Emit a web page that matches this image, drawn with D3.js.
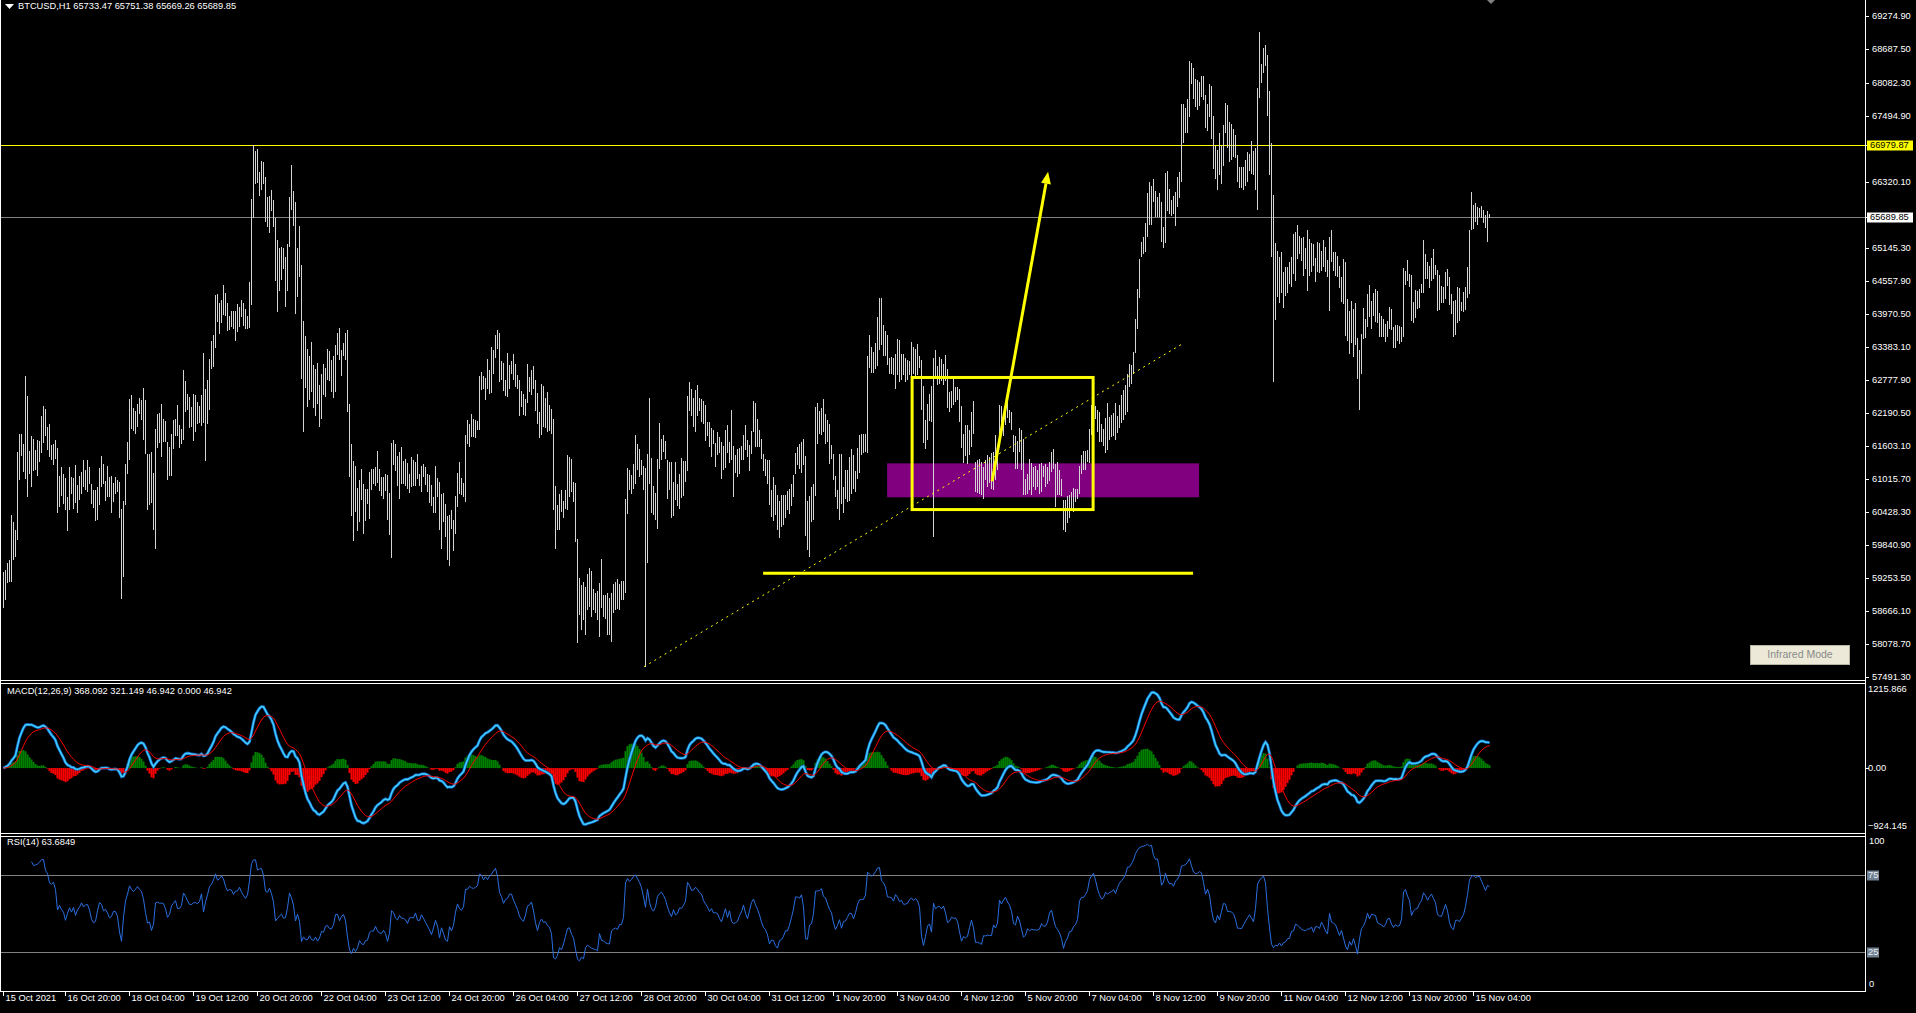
<!DOCTYPE html>
<html><head><meta charset="utf-8">
<script src="https://cdn.jsdelivr.net/npm/d3@7"></script>
<style>html,body{margin:0;padding:0;background:#000;overflow:hidden}svg{display:block}</style>
</head><body>
<svg id="chart" width="1916" height="1013"></svg>
<script>
// ---------------- DATA ----------------
const symbol = "BTCUSD,H1";
const lastBar = {open:65733.47, high:65751.38, low:65669.26, close:65689.85};
const firstBarTime = "2021-10-15 13:00";
const highs = [
59366,59396,59515,59574,60375,60256,60108,61502,61829,61817,61639,62849,62493,61520,61781,61734,61532,61710,61692,62137,
62315,62262,61947,62007,61621,61651,61722,61568,61069,61235,61105,61034,60701,61229,61057,61034,61265,60909,61069,61146,
61366,61176,61354,61235,60939,60820,60820,60879,61217,61425,61283,60986,61247,61057,61069,60950,61057,61010,60968,60494,
60630,61295,61674,62440,62511,62291,62226,62363,62469,62422,62647,62422,61473,61461,61502,61128,61918,62185,62196,62351,
62096,62054,61680,61591,61817,62066,62096,62333,61989,61906,62956,62766,62529,62481,
62303,62541,62511,62386,62315,62511,63264,62630,62778,63164,63490,63597,64309,64321,64166,64220,64481,64344,64166,63935,
64024,64024,64024,64143,64083,64214,64154,64054,63935,64540,66012,66980,66860,66902,66486,66694,66664,66409,66041,66071,
66172,66000,65667,65282,65139,65163,65139,64985,65211,66041,66623,66160,65952,65139,65537,64843,63846,63579,63336,63205,
63472,63045,62986,63086,62689,62897,63075,63003,63330,63300,63134,63205,63413,63632,63715,63312,63454,63632,63680,62351,
61651,61336,61247,60867,60998,61206,60939,60850,60850,61146,61206,61206,61235,61514,61206,
61057,61057,61105,61087,60772,61662,61710,61651,61425,61496,61585,61336,61372,61306,61105,61407,61354,61324,61473,61117,
61247,61283,61229,61117,61087,60909,60701,61247,61045,60962,60761,60772,60571,60357,60375,60476,60286,60713,61134,61318,
61034,60950,61799,62066,61995,62185,62096,62078,62048,62849,62926,62849,62819,63152,62968,63371,63312,63597,63686,63620,
63116,63092,62790,63264,63045,63122,63241,63075,62879,62778,62582,62541,62452,63063,62837,62968,63027,62778,62552,62214,
62719,62671,62469,62570,62333,62274,62096,60891,60553,60749,60820,60624,60832,61455,61413,
61372,60968,60950,59948,59254,59135,59182,59093,59325,59437,59384,59052,58981,59028,59170,59586,58951,58951,58981,58892,
58992,59147,59188,59230,59147,59206,59206,60672,61223,61188,61087,61283,61811,61651,61562,61354,61247,61217,61461,62469,
61401,60891,60778,61372,62024,61728,61811,61692,61366,61324,61324,60968,61324,60939,61105,61401,61342,61342,62493,62748,
62630,62469,62612,62689,62469,62452,62410,62333,62036,62036,61935,61900,61662,61858,61769,61680,61603,61888,61977,61680,
62244,61603,61443,61562,61579,61603,61799,61977,61710,61621,61870,62410,62374,62096,61888,
61740,61461,61372,61354,61354,60820,61057,60909,60731,60630,60731,60731,60731,60808,60850,60939,61087,61484,61591,61651,
61680,61740,61425,60624,60713,60879,60927,62303,62380,62232,62280,62452,62185,62066,61995,61621,61473,61069,60832,61473,
61461,60879,61188,61188,61413,61562,61443,61164,61579,61799,61829,61817,61817,63205,63597,63383,63282,63442,63917,64249,
64249,63775,63668,63597,63181,63193,63181,63241,63520,63502,63241,63253,63181,63146,63116,63472,63383,63342,63419,63205,
63134,62671,62078,62351,62541,62671,63181,63324,63027,63193,63164,63075,63223,62986,62564,
62582,62808,62659,62659,62630,62315,61829,61977,61977,61900,62214,62404,61324,61366,61384,61324,61235,61354,61443,61413,
61484,61502,61799,61413,62333,62315,62214,62315,62392,62244,62214,61799,61781,61698,61935,61900,61740,61028,61105,61384,
61306,61235,61247,61176,61295,61306,61247,61295,61235,61324,61502,61562,61295,61324,61188,61028,60642,60642,60713,60731,
60790,60868,60850,60850,61247,61443,61520,61520,61532,61918,62333,62256,62315,62244,62214,62007,61918,62113,62374,62125,
62155,62196,62374,62137,62333,62511,62600,62689,62897,63063,63045,63282,63881,64400,64950,
65240,65341,65578,66112,66320,66249,66368,66148,66053,66118,65952,65519,66468,66516,66190,66000,66071,66130,66397,66498,
67714,67714,67631,67792,68474,68432,68343,68160,68130,68106,68207,68207,67869,67714,68059,68029,67495,66961,66884,67198,
66961,67335,67732,67691,67394,67347,67258,67157,66801,66576,66576,66575,66706,66842,66813,67038,66860,66919,67999,68990,
68426,68711,68759,68581,67940,67002,66089,65222,65080,64973,65062,64706,64795,64795,64884,64973,65389,65418,65555,65359,
65317,65329,65139,65466,65300,65222,65211,64961,65240,65222,65080,65282,65163,64926,65341,
65460,65062,65062,65003,64825,64629,64944,64896,64232,64024,64202,64054,64166,63538,63324,63609,64071,63876,64321,64487,
64190,64344,64410,64380,63976,63935,63876,63787,63846,64095,64054,63727,63775,63775,63757,63739,64783,64736,64926,64677,
64665,64172,64398,64368,64404,64499,65282,65033,64896,64825,64955,65122,64843,64748,64665,64469,64451,64706,64766,64629,
64321,64190,64214,64451,64428,64172,64362,64451,64807,65460,66142,65911,65934,65875,65851,65893,65816,65733,65804,65751.38
];
const lows = [
58714,58862,59159,59188,59188,59574,59633,59930,60998,61425,61146,61028,60701,61117,60879,61164,61176,61075,61324,61484,
61662,61781,61532,61413,61354,61265,61384,60416,60523,60713,60583,60464,60096,60464,60749,60488,60594,60416,60654,60761,
60879,60820,60796,60939,60571,60511,60274,60286,60553,60879,60927,60630,60701,60701,60416,60606,60761,60790,60333,58874,
59277,60553,61105,61354,61918,61876,61817,61947,62185,62066,61710,61473,60464,60553,60594,60120,59782,61579,61662,61413,
61680,61680,60998,61075,61075,61562,61781,61781,61579,61651,61710,62214,62244,61935,
61947,61698,61858,62007,62018,61971,62018,61342,62007,62256,62986,63015,63359,63822,63609,63798,63953,63929,63656,63680,
63727,63698,63478,63644,63727,63905,63757,63698,63698,63715,64131,65673,66279,66290,66065,66172,66279,65596,65507,65400,
65804,65507,64546,63994,64368,64570,64766,64083,64368,65151,65816,65537,63965,64261,64617,62808,61858,62647,62303,62434,
62570,62291,62143,62363,61947,62096,62511,62481,62790,62766,62570,62463,62570,63235,63134,62855,63205,63134,62214,61057,
60357,59918,60434,60096,60256,60642,60049,60274,60583,60316,60820,60939,60891,60950,60808,
60713,60672,60808,60286,60019,59604,61265,61164,60891,60660,60927,60939,60891,60850,60772,60879,60891,60891,61028,60891,
60790,61057,60909,60790,60594,60535,60416,60416,60701,60108,59782,60256,59989,59574,59473,60126,59740,60037,60523,60761,
60731,60701,60612,61639,61591,61769,61769,61757,61900,61900,62600,62624,62434,62630,62541,62552,62897,63175,63342,62748,
62778,62582,62493,62481,62630,62897,62790,62659,62630,62137,62303,62155,62137,62374,62570,62511,62618,62232,62007,61757,
61799,61947,61935,61866,61876,61829,60464,59782,60120,60108,60428,60327,60494,60476,60701,
60790,60612,59900,58091,58595,58328,58506,58239,58684,58743,58553,58684,58625,58506,58197,58714,58565,58518,58239,58239,
58120,58625,58684,58696,58684,58862,58862,58981,60393,60820,60749,60850,60927,61176,61057,61087,60820,57675,59515,60939,
60416,60387,60286,60126,61194,61366,61502,61372,60660,60832,60333,60357,60642,60535,60494,60689,60713,60968,61164,62232,
62137,61947,61858,62137,62232,62036,62007,61698,61781,61591,61413,61639,61235,61443,61484,61028,61176,61223,61484,61306,
61366,60701,61134,61057,61105,61354,61354,61532,61413,61164,61461,61858,61591,61591,61591,
61384,61164,61069,60939,60565,60345,60274,60375,60108,59977,60167,60197,60333,60464,60405,60535,60701,61105,61265,61206,
61128,61265,60001,59764,59633,60256,60286,60713,61639,61817,61799,61858,61639,61680,61295,61384,60998,60701,60494,60298,
60583,60416,60672,60612,60630,60761,60850,60790,61028,61128,61443,61484,61502,61484,63003,62908,62908,62986,63027,63312,
63401,63205,63205,63045,62897,62885,62867,62624,62867,62748,62790,62867,62748,62790,62867,62719,62897,62849,62867,63003,
62244,61662,61562,61710,62048,62036,59989,62837,62695,62719,62766,62689,62766,62285,62214,
62291,62333,62392,62422,62036,61579,61306,61425,61295,61443,61591,61817,60790,60778,60761,60731,60672,60998,60879,60950,
60850,60832,60998,61188,61591,61900,61781,61977,62113,62018,61888,61502,61206,61206,61502,61176,60731,60731,60761,60820,
60731,60879,60832,60879,60761,60790,61057,60879,60939,60986,61146,61206,60523,60731,60731,60713,60120,60078,60238,60333,
60494,60434,60612,60672,60749,61117,61188,61176,61324,61306,61799,61918,62096,61858,61680,61680,61603,61484,61532,61722,
61769,61781,61710,61840,61935,62018,62078,62155,62214,62659,62707,62897,63276,63700,64250,
64973,65033,65062,65341,65555,65555,65952,65685,65697,65697,65240,65133,65222,65804,65745,65715,65745,65525,65863,66029,
66308,67002,67198,67198,67477,68070,67792,67655,67596,67673,67833,67774,67276,67216,67477,67080,66546,66368,66172,66445,
66279,66605,67198,66919,66664,66706,66753,66741,66308,66207,66207,66172,66237,66308,66504,66457,66445,66172,65816,67821,
68088,68266,68385,67495,66445,64973,62748,63858,64261,64154,64332,64071,64279,64332,64499,64439,64677,64558,64944,65033,
64902,64647,64766,64368,64647,64706,64825,64528,64706,64688,64724,64807,64706,64617,64012,
64884,64724,64647,64617,64428,64172,64143,63579,63478,63241,63448,63193,63401,62808,62256,62897,63520,63538,63739,63917,
63698,63935,63816,63798,63549,63561,63549,63460,63549,63698,63680,63359,63359,63490,63419,63460,63561,64487,64546,64451,
63846,63798,63893,64054,64071,64332,64332,64588,64588,64428,64558,64588,64659,64024,64036,64154,64154,64232,64469,64131,
63965,63561,63597,63798,63834,64012,63994,64036,64249,64321,65460,65478,65596,65555,65685,65673,65578,65495,65240,65669.26
];
const timeLabels = ["2021-10-15 13:00","2021-10-16 20:00","2021-10-18 04:00","2021-10-19 12:00","2021-10-20 20:00",
 "2021-10-22 04:00","2021-10-23 12:00","2021-10-24 20:00","2021-10-26 04:00","2021-10-27 12:00","2021-10-28 20:00",
 "2021-10-30 04:00","2021-10-31 12:00","2021-11-01 20:00","2021-11-03 04:00","2021-11-04 12:00","2021-11-05 20:00",
 "2021-11-07 04:00","2021-11-08 12:00","2021-11-09 20:00","2021-11-11 04:00","2021-11-12 12:00","2021-11-13 20:00",
 "2021-11-15 04:00"];
// visible price scale labels (the ones at 66907.50 and 65732.70 are covered by the price boxes)
const priceTicks = [69274.90,68687.50,68082.30,67494.90,66320.10,65145.30,64557.90,63970.50,63383.10,
 62777.90,62190.50,61603.10,61015.70,60428.30,59840.90,59253.50,58666.10,58078.70,57491.30];
const macdRange = [-924.145, 1215.866];
const rsiLevels = [75, 25];
const macdParams = [12, 26, 9];
const rsiPeriod = 14;
const macdLegend = "MACD(12,26,9) 368.092 321.149 46.942 0.000 46.942";
const rsiLegend = "RSI(14) 63.6849";
// chart objects, anchored in (bar index, price)
const hLine = {price:66979.87};
const trendLine = {i1:320.3, p1:57675, i2:590.3, p2:63449};
const supportLine = {i1:379.8, i2:594.8, price:59342};
const boxRect = {i1:454.3, i2:544.8, p1:62831, p2:60476};
const zoneRect = {i1:441.8, i2:597.8, p1:61300, p2:60695};
const arrowLine = {i1:494.3, p1:60980, i2:522.3, p2:66498};

// ---------------- LAYOUT ----------------
const W = 1916, H = 1013, AX = 1865;
const FONT = "'Liberation Sans', Arial, sans-serif";
const svg = d3.select("#chart");
svg.append("rect").attr("width", W).attr("height", H).attr("fill", "#000");

const n = highs.length;
const x = d3.scaleLinear().domain([0, n - 1]).range([3.5, 3.5 + 2 * (n - 1)]);
const yP = d3.scaleLinear().domain([57491.3, 69274.9]).range([677, 16]);
const yM = d3.scaleLinear().domain(macdRange).range([832, 684]);
const yR = d3.scaleLinear().domain([0, 100]).range([991, 836.5]);

const defs = svg.append("defs");
function clip(id, y0, y1) {
  defs.append("clipPath").attr("id", id).append("rect").attr("x", 0).attr("y", y0).attr("width", AX).attr("height", y1 - y0);
}
clip("cMain", 0, 680); clip("cMacd", 684, 833); clip("cRsi", 837, 991);

// ---------------- MAIN PANE ----------------
const main = svg.append("g").attr("clip-path", "url(#cMain)");
main.append("rect")
  .attr("x", x(zoneRect.i1)).attr("y", yP(zoneRect.p1))
  .attr("width", x(zoneRect.i2) - x(zoneRect.i1)).attr("height", yP(zoneRect.p2) - yP(zoneRect.p1))
  .attr("fill", "#800080");
main.append("line").attr("x1", 0).attr("x2", AX).attr("y1", Math.round(yP(hLine.price)) + 0.5).attr("y2", Math.round(yP(hLine.price)) + 0.5)
  .attr("stroke", "#ffff00").attr("stroke-width", 1);
main.append("line").attr("x1", 0).attr("x2", AX).attr("y1", Math.round(yP(lastBar.close)) + 0.5).attr("y2", Math.round(yP(lastBar.close)) + 0.5)
  .attr("stroke", "#808080").attr("stroke-width", 1);
main.append("g").selectAll("line").data(d3.range(n)).join("line")
  .attr("x1", i => Math.floor(x(i)) + 0.5).attr("x2", i => Math.floor(x(i)) + 0.5)
  .attr("y1", i => Math.round(yP(highs[i])))
  .attr("y2", i => Math.max(Math.round(yP(lows[i])), Math.round(yP(highs[i])) + 1))
  .attr("stroke", "#d4d4d4").attr("stroke-width", 1).attr("shape-rendering", "crispEdges");
main.append("line").attr("x1", x(trendLine.i1)).attr("y1", yP(trendLine.p1)).attr("x2", x(trendLine.i2)).attr("y2", yP(trendLine.p2))
  .attr("stroke", "#ffff00").attr("stroke-width", 1).attr("stroke-dasharray", "2,4");
main.append("line").attr("x1", x(supportLine.i1)).attr("x2", x(supportLine.i2)).attr("y1", yP(supportLine.price)).attr("y2", yP(supportLine.price))
  .attr("stroke", "#ffff00").attr("stroke-width", 3);
main.append("rect")
  .attr("x", x(boxRect.i1)).attr("y", yP(boxRect.p1))
  .attr("width", x(boxRect.i2) - x(boxRect.i1)).attr("height", yP(boxRect.p2) - yP(boxRect.p1))
  .attr("fill", "none").attr("stroke", "#ffff00").attr("stroke-width", 3);
{
  const ax1 = x(arrowLine.i1), ay1 = yP(arrowLine.p1), ax2 = x(arrowLine.i2), ay2 = yP(arrowLine.p2);
  const dx = ax2 - ax1, dy = ay2 - ay1, L = Math.hypot(dx, dy), ux = dx / L, uy = dy / L;
  const hl = 12, hw = 5;
  const bx = ax2 - ux * hl, by = ay2 - uy * hl;
  main.append("line").attr("x1", ax1).attr("y1", ay1).attr("x2", bx).attr("y2", by)
    .attr("stroke", "#ffff00").attr("stroke-width", 3);
  main.append("polygon").attr("points", [[ax2, ay2], [bx - uy * hw, by + ux * hw], [bx + uy * hw, by - ux * hw]].map(p => p.join(",")).join(" "))
    .attr("fill", "#ffff00");
}

// ---------------- INDICATORS ----------------
const closes = highs.map((h, i) => i === n - 1 ? lastBar.close
  : Math.max(lows[i], Math.min(h, (highs[i + 1] + lows[i + 1]) / 2)));
function ema(arr, p) { const k = 2 / (p + 1); const out = []; arr.forEach((v, i) => out.push(i === 0 ? v : v * k + out[i - 1] * (1 - k))); return out; }
const e1 = ema(closes, macdParams[0]), e2 = ema(closes, macdParams[1]);
const macd = e1.map((v, i) => v - e2[i]);
const signal = ema(macd, macdParams[2]);
const hist = macd.map((v, i) => v - signal[i]);

const mg = svg.append("g").attr("clip-path", "url(#cMacd)");
mg.append("g").selectAll("rect").data(d3.range(n)).join("rect")
  .attr("x", i => Math.floor(x(i)) - 0.5).attr("width", 2)
  .attr("y", i => hist[i] >= 0 ? yM(hist[i]) : yM(0))
  .attr("height", i => Math.abs(yM(hist[i]) - yM(0)))
  .attr("fill", i => hist[i] >= 0 ? "#008000" : "#ff0000");
const lineM = d3.line().x((d, i) => x(i)).y(d => yM(d));
mg.append("path").datum(macd).attr("d", lineM).attr("fill", "none").attr("stroke", "#1060c0").attr("stroke-width", 3);
mg.append("path").datum(macd).attr("d", lineM).attr("fill", "none").attr("stroke", "#40d0ff").attr("stroke-width", 1.5);
mg.append("path").datum(signal).attr("d", lineM).attr("fill", "none").attr("stroke", "#ff0000").attr("stroke-width", 1);

const rsi = new Array(n).fill(null);
{
  let g = 0, l = 0;
  for (let i = 1; i <= rsiPeriod; i++) { const d = closes[i] - closes[i - 1]; if (d > 0) g += d; else l -= d; }
  g /= rsiPeriod; l /= rsiPeriod;
  rsi[rsiPeriod] = 100 - 100 / (1 + g / (l || 1e-9));
  for (let i = rsiPeriod + 1; i < n; i++) {
    const d = closes[i] - closes[i - 1];
    g = (g * (rsiPeriod - 1) + Math.max(d, 0)) / rsiPeriod;
    l = (l * (rsiPeriod - 1) + Math.max(-d, 0)) / rsiPeriod;
    rsi[i] = 100 - 100 / (1 + g / (l || 1e-9));
  }
}
const rg = svg.append("g").attr("clip-path", "url(#cRsi)");
rsiLevels.forEach(v => rg.append("line").attr("x1", 0).attr("x2", AX).attr("y1", Math.round(yR(v)) + 0.5).attr("y2", Math.round(yR(v)) + 0.5)
  .attr("stroke", "#808080").attr("stroke-width", 1));
rg.append("path").datum(rsi).attr("d", d3.line().defined(d => d !== null).x((d, i) => x(i)).y(d => yR(d)))
  .attr("fill", "none").attr("stroke", "#2a6fe0").attr("stroke-width", 1);

// ---------------- FRAMES ----------------
const fr = svg.append("g").attr("stroke", "#ffffff").attr("stroke-width", 1).attr("shape-rendering", "crispEdges");
[680.5, 683.5, 833.5, 836.5, 991.5].forEach(y => fr.append("line").attr("x1", 0).attr("x2", AX + 1).attr("y1", y).attr("y2", y));
fr.append("line").attr("x1", AX + 0.5).attr("x2", AX + 0.5).attr("y1", 0).attr("y2", 992);
fr.append("line").attr("x1", 0.5).attr("x2", 0.5).attr("y1", 0).attr("y2", 992);

// ---------------- AXES TEXT ----------------
const txt = (g, xx, yy, s, col, anchor) => g.append("text").attr("x", xx).attr("y", yy).text(s)
  .attr("fill", col || "#fff").attr("font-family", FONT).attr("font-size", "9.3px")
  .attr("text-anchor", anchor || "start").attr("dominant-baseline", "middle");
const ax = svg.append("g");
priceTicks.forEach(v => {
  const yy = Math.round(yP(v)) + 0.5;
  ax.append("line").attr("x1", AX).attr("x2", AX + 4).attr("y1", yy).attr("y2", yy).attr("stroke", "#fff").attr("shape-rendering", "crispEdges");
  txt(ax, AX + 7, yy + 0.5, d3.format(".2f")(v));
});
function priceBox(v, bg, fg) {
  const yy = Math.round(yP(v)) + 0.5;
  ax.append("line").attr("x1", AX).attr("x2", AX + 4).attr("y1", yy).attr("y2", yy).attr("stroke", "#fff");
  ax.append("rect").attr("x", AX + 2).attr("y", yy - 5).attr("width", 46).attr("height", 10).attr("fill", bg);
  txt(ax, AX + 5, yy + 0.5, d3.format(".2f")(v), fg);
}
priceBox(hLine.price, "#ffff00", "#000");
priceBox(lastBar.close, "#ffffff", "#000");

[[macdRange[1], 690], [0, null], [macdRange[0], 827]].forEach(([v, fy]) => {
  const yy = fy !== null ? fy : Math.round(yM(v)) + 0.5;
  if (v === 0) ax.append("line").attr("x1", AX).attr("x2", AX + 4).attr("y1", yy).attr("y2", yy).attr("stroke", "#fff");
  txt(ax, AX + 3, yy, v === 0 ? "0.00" : d3.format(".3f")(v));
});
txt(ax, AX + 4, 842, "100");
txt(ax, AX + 4, 985, "0");
rsiLevels.forEach(v => {
  const yy = Math.round(yR(v)) + 0.5;
  ax.append("rect").attr("x", AX + 2).attr("y", yy - 5).attr("width", 12).attr("height", 10).attr("fill", "#708090");
  txt(ax, AX + 3, yy + 0.5, String(v), "#e8eef5");
});

const parseT = d3.timeParse("%Y-%m-%d %H:%M");
const t0 = parseT(firstBarTime);
const fmtFirst = d3.timeFormat("%-d %b %Y"), fmtOther = d3.timeFormat("%-d %b %H:%M");
timeLabels.forEach((s, k) => {
  const t = parseT(s);
  const idx = (t - t0) / 36e5;
  const xx = Math.floor(x(idx)) + 0.5;
  ax.append("line").attr("x1", xx).attr("x2", xx).attr("y1", 992).attr("y2", 996).attr("stroke", "#fff").attr("shape-rendering", "crispEdges");
  txt(ax, xx + 2, 999, k === 0 ? fmtFirst(t) : fmtOther(t));
});

svg.append("polygon").attr("points", "5,4 14,4 9.5,9").attr("fill", "#fff");
txt(svg, 18, 7, `${symbol}  ${[lastBar.open, lastBar.high, lastBar.low, lastBar.close].map(d3.format(".2f")).join(" ")}`);
txt(svg, 7, 692, macdLegend);
txt(svg, 7, 843, rsiLegend);

svg.append("polygon").attr("points", "1487,0 1495,0 1491,4").attr("fill", "#808080");

const btn = svg.append("g");
btn.append("rect").attr("x", 1750.5).attr("y", 645.5).attr("width", 99).attr("height", 19).attr("fill", "#ece9d8").attr("stroke", "#b8b4a4");
btn.append("text").attr("x", 1800).attr("y", 655.5).text("Infrared Mode").attr("fill", "#8a8a8a")
  .attr("font-family", FONT).attr("font-size", "10.5px").attr("text-anchor", "middle").attr("dominant-baseline", "middle");
</script>
</body></html>
